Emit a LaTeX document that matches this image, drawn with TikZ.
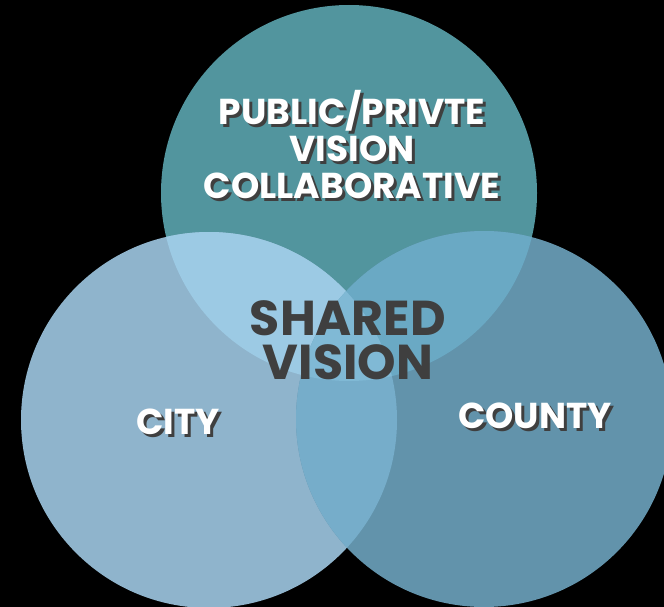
\documentclass[tikz,border=0pt]{standalone}
\usepackage{fontspec}
\setmainfont{Poppins}

\definecolor{topteal}{HTML}{52959E}
\definecolor{cityblue}{HTML}{8FB4CC}
\definecolor{countyblue}{HTML}{6293AB}
\definecolor{topcity}{HTML}{9CCAE4}
\definecolor{topcounty}{HTML}{6AA9C4}
\definecolor{citycounty}{HTML}{76ADCA}
\definecolor{allthree}{HTML}{80B9D5}
\definecolor{shadowgray}{HTML}{3F3F3F}

\begin{document}
\begin{tikzpicture}
        [
            x = 1pt, y = -1pt,
            ringtext/.style = {text=white, font=\bfseries\fontsize{36}{37}\selectfont, align=center, inner sep=0pt},
            ringshadow/.style = {ringtext, text=shadowgray},
            centertext/.style = {text=shadowgray, font=\bfseries\fontsize{49}{44}\selectfont, align=center, inner sep=0pt},
        ]
        \useasboundingbox (0,0) rectangle (664,607);
        \fill[black] (0,0) rectangle (664,607);
        \clip (0,0) rectangle (664,607);

        % the three rings
        \coordinate (top) at (349,193);
        \coordinate (city) at (209,420);
        \coordinate (county) at (484,419);
        \fill[topteal] (top) circle (188pt);
        \fill[cityblue] (city) circle (188pt);
        \fill[countyblue] (county) circle (188pt);

        % overlaps
        \begin{scope}
            \clip (top) circle (188pt);
            \fill[topcity] (city) circle (188pt);
            \fill[topcounty] (county) circle (188pt);
        \end{scope}
        \begin{scope}
            \clip (city) circle (188pt);
            \fill[citycounty] (county) circle (188pt);
            \clip (county) circle (188pt);
            \fill[allthree] (top) circle (188pt);
        \end{scope}

        % labels
        \node[ringshadow] (topshadow) at (355,148) {PUBLIC/PRIVTE\\VISION\\COLLABORATIVE};
        \node[ringtext] (toplabel) at (352,145) {PUBLIC/PRIVTE\\VISION\\COLLABORATIVE};
        \node[ringshadow] (cityshadow) at (181,425) {CITY};
        \node[ringtext] (citylabel) at (178,422) {CITY};
        \node[ringshadow] (countyshadow) at (538,419) {COUNTY};
        \node[ringtext] (countylabel) at (535,416) {COUNTY};
        \node[centertext] (shared) at (348,340) {SHARED\\VISION};
\end{tikzpicture}
\end{document}
